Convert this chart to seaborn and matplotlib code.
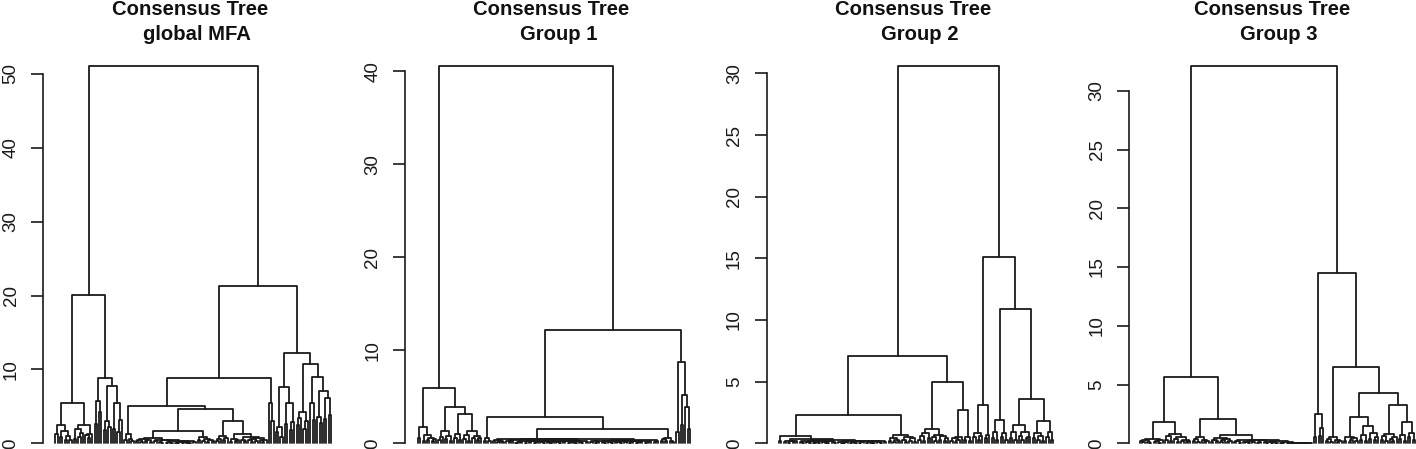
import numpy as np
import pandas as pd
import seaborn as sns
import matplotlib
matplotlib.use("Agg")
import matplotlib.pyplot as plt

# 패널 제목 (둘째 줄)
titles = ["global MFA", "Group 1", "Group 2", "Group 3"]

# 이웃한 잎 사이의 병합 높이 (왼쪽 -> 오른쪽), 그림에서 읽은 값
gaps_mfa = [1.2, 2.5, 0.8, 1.6, 0.5, 1.0, 0.4, 5.5, 0.6, 1.9,
            0.9, 1.4, 2.5, 1.1, 0.7, 1.3, 20.1, 2.6, 5.7, 4.3,
            8.9, 1.8, 3.0, 2.2, 7.8, 2.0, 5.4, 1.5, 3.1, 51.1,
            0.4, 1.3, 0.6, 0.3, 5.0,
            0.3, 0.5, 0.2, 0.6, 0.3, 0.4, 0.2, 0.7, 0.3, 0.5,
            0.2, 0.1, 0.4, 0.1, 0.2, 0.1, 0.3, 0.1, 0.05, 0.2,
            0.1, 0.15, 0.05, 0.1, 0.3, 0.2,
            1.67, 0.4, 0.8, 0.3, 0.6, 0.2, 0.5, 0.3,
            4.7, 0.3, 0.6, 1.0, 0.4, 0.7,
            3.0, 0.2, 0.6, 0.3, 0.4,
            1.3, 0.5, 0.3, 0.9, 0.4, 0.2, 0.6, 0.3, 0.7, 0.4, 0.2, 0.5,
            8.9, 5.5, 3.0, 21.3, 1.5, 2.2, 0.9, 7.6, 2.6, 5.5,
            1.8, 2.9, 12.2, 2.5, 3.4, 4.25, 2.0, 3.0, 10.7, 5.5,
            3.2, 9.0, 3.6, 2.7, 7.05, 3.3, 6.1, 3.8]

gaps_g1 = [0.6, 1.75, 0.3, 0.9, 0.4, 0.6, 0.2, 0.5, 6.0, 0.4,
           0.7, 1.3, 0.5, 0.8, 0.3, 3.9, 0.6, 1.0, 0.4, 3.1,
           0.5, 0.9, 0.3, 1.3, 0.6, 0.8, 0.4, 0.6, 40.6, 0.3,
           0.6, 0.2, 2.83, 0.2, 0.35, 0.1, 0.25, 0.15, 0.5,
           0.3, 0.1, 0.2, 0.35, 0.05, 0.15, 0.1, 0.3, 0.05, 0.2,
           0.1, 0.25, 0.05, 0.1, 0.3, 0.15, 0.05, 0.2, 0.1, 0.05,
           0.15, 0.3, 0.1, 0.05, 0.2, 0.1, 0.25, 0.05, 0.1, 0.15,
           0.05, 0.2, 0.1, 0.05, 0.3, 0.1,
           0.42,
           0.1, 0.2, 0.05, 0.15, 0.3, 0.1, 0.05, 0.2, 0.1, 0.05,
           0.25, 0.1, 0.15, 0.05, 0.2, 0.1, 0.3, 0.05, 0.1, 0.2,
           0.05, 0.15, 0.1, 0.25, 0.05, 0.1, 0.2, 0.35, 0.15, 0.3,
           1.58, 0.3, 0.5, 0.2, 0.6, 0.3, 0.15,
           12.2, 1.2, 8.7, 2.0, 5.2, 3.9, 1.5]

gaps_g2 = [0.2, 0.62, 0.1, 0.2, 0.05, 0.15, 0.1, 0.2, 0.35,
           0.1, 0.05, 0.2, 0.1, 0.05, 0.15, 0.02, 0.1, 0.05, 0.2,
           0.1, 0.05, 0.02, 0.15, 0.1, 0.05, 0.25, 0.1, 0.02, 0.05,
           0.1, 0.2, 0.05, 0.1, 0.02, 0.15, 0.05, 0.1, 0.2, 0.05,
           0.1, 0.02, 0.05, 0.15, 0.1, 0.05, 0.2, 0.1,
           2.3, 0.2, 0.4, 0.1, 0.3, 0.2, 0.67, 0.3, 0.1, 0.5, 0.2, 0.4, 0.1,
           7.08, 0.3, 0.6, 0.2, 0.8, 0.4, 1.2, 0.5, 0.2, 0.7, 0.3, 0.6, 0.2, 0.4,
           4.95, 0.2, 0.4, 0.1, 0.3, 0.5, 2.7, 0.3, 0.5, 0.2,
           30.6, 0.5, 0.8, 0.3, 0.6, 3.1, 0.4, 0.7,
           15.1, 0.4, 0.9, 0.3, 1.9, 0.5, 0.8, 0.3,
           10.9, 0.4, 0.9, 0.3, 1.5, 0.6, 0.3, 0.9, 0.4, 0.5,
           3.6, 0.4, 0.8, 0.3, 0.6, 0.2, 1.8, 0.5, 0.9, 0.3]

gaps_g3 = [0.2, 0.1, 0.3, 0.15, 0.05, 0.35, 0.1, 0.2, 0.05, 0.25,
           1.84, 0.3, 0.6, 0.2, 0.8, 0.4, 0.1, 0.5, 0.2, 0.3, 0.1, 0.2,
           5.65, 0.2, 0.4, 0.1, 0.55, 0.3, 0.1, 0.2,
           2.1, 0.1, 0.3, 0.2, 0.45, 0.1, 0.25, 0.4, 0.15, 0.2,
           0.7,
           0.1, 0.2, 0.05, 0.3, 0.1, 0.15, 0.05, 0.2, 0.1, 0.25,
           0.05, 0.1, 0.28, 0.1, 0.05, 0.15, 0.02, 0.1, 0.05, 0.2,
           0.02, 0.05, 0.1, 0.02, 0.05, 0.03, 0.02, 0.05, 0.01, 0.03,
           0.02, 0.01, 0.03, 0.02,
           32.1, 0.5, 2.47, 0.6, 1.28,
           14.5, 0.2, 0.4, 0.1, 0.5, 0.3, 0.15, 0.2,
           6.52, 0.2, 0.5, 0.1, 0.3, 0.45, 0.2,
           2.2, 0.3, 0.7, 0.2, 1.47, 0.4, 0.9, 0.3, 0.5,
           4.3, 0.3, 0.6, 0.2, 0.8, 0.4, 0.2, 0.5,
           3.3, 0.4, 0.7, 0.2, 1.84, 0.5, 0.9, 0.3]

all_gaps = [gaps_mfa, gaps_g1, gaps_g2, gaps_g3]
tick_top = [50, 40, 30, 30]
tick_step = [10, 10, 5, 5]

# 픽셀 단위 배치 (1416 x 449)
axis_px = [43.3, 405, 766.7, 1129.3]
leaf_first_px = [55.5, 418, 779, 1140]
leaf_last_px = [331, 690, 1053.3, 1415]
px_per_unit = [7.386, 9.3, 12.33, 11.75]
title_px = [189.7, 551.4, 913, 1272.2]
zero_px = 443.3
W, H = 1416, 449


def tree_segments(gaps):
    # 이웃 병합 높이로부터 트리를 만든다: 가장 큰 간격에서 나눔
    g = np.asarray(gaps, dtype=float)
    segs = []

    def build(lo, hi):
        if lo == hi:
            return float(lo), 0.0
        k = lo + int(np.argmax(g[lo:hi]))
        xl, hl = build(lo, k)
        xr, hr = build(k + 1, hi)
        h = g[k]
        segs.append([(xl, hl), (xl, h), (xr, h), (xr, hr)])
        return (xl + xr) / 2, h

    build(0, len(g))
    return segs


rows = []
for p, gaps in enumerate(all_gaps):
    for s, seg in enumerate(tree_segments(gaps)):
        for o, (x, y) in enumerate(seg):
            rows.append({"panel": p, "seg": s, "order": o, "x": x, "y": y})
df = pd.DataFrame(rows)

sns.set_style("ticks")
plt.rcParams["font.family"] = ["Liberation Sans", "DejaVu Sans"]

fig = plt.figure(figsize=(W / 100, H / 100), dpi=100)

for p in range(4):
    n_gaps = len(all_gaps[p])
    step = (leaf_last_px[p] - leaf_first_px[p]) / n_gaps
    right_px = leaf_last_px[p] + 8
    top_px = 50
    ax = fig.add_axes([axis_px[p] / W, 0, (right_px - axis_px[p]) / W, (H - top_px) / H])
    ax.set_facecolor("none")

    sns.lineplot(data=df[df.panel == p], x="x", y="y", units="seg",
                 estimator=None, sort=False, color="#1a1a1a",
                 linewidth=1.3, ax=ax, legend=False)

    x_left = -(leaf_first_px[p] - axis_px[p]) / step
    ax.set_xlim(x_left, x_left + (right_px - axis_px[p]) / step)
    k = px_per_unit[p]
    ax.set_ylim(-(H - zero_px) / k, (zero_px - top_px) / k)

    for side in ["top", "right", "bottom"]:
        ax.spines[side].set_visible(False)
    ax.spines["left"].set_bounds(0, tick_top[p])
    ax.spines["left"].set_linewidth(1.2)
    ax.spines["left"].set_color("#1a1a1a")
    ax.set_xticks([])
    ax.set_yticks(np.arange(0, tick_top[p] + 1, tick_step[p]))
    ax.tick_params(axis="y", length=8.6, width=1.2, pad=8.5, labelsize=13.5,
                   labelrotation=90, color="#1a1a1a", labelcolor="#1a1a1a")
    for lbl in ax.get_yticklabels():
        lbl.set_va("center")
    ax.set_xlabel("")
    ax.set_ylabel("")

    cx = title_px[p]
    fig.text(cx / W, 1 - 15 / H, "Consensus Tree", ha="center", va="baseline",
             fontsize=14.6, fontweight="bold", color="#111111")
    fig.text((cx + 7) / W, 1 - 40.5 / H, titles[p], ha="center", va="baseline",
             fontsize=14.6, fontweight="bold", color="#111111")

fig.savefig("out.png", dpi=100)
